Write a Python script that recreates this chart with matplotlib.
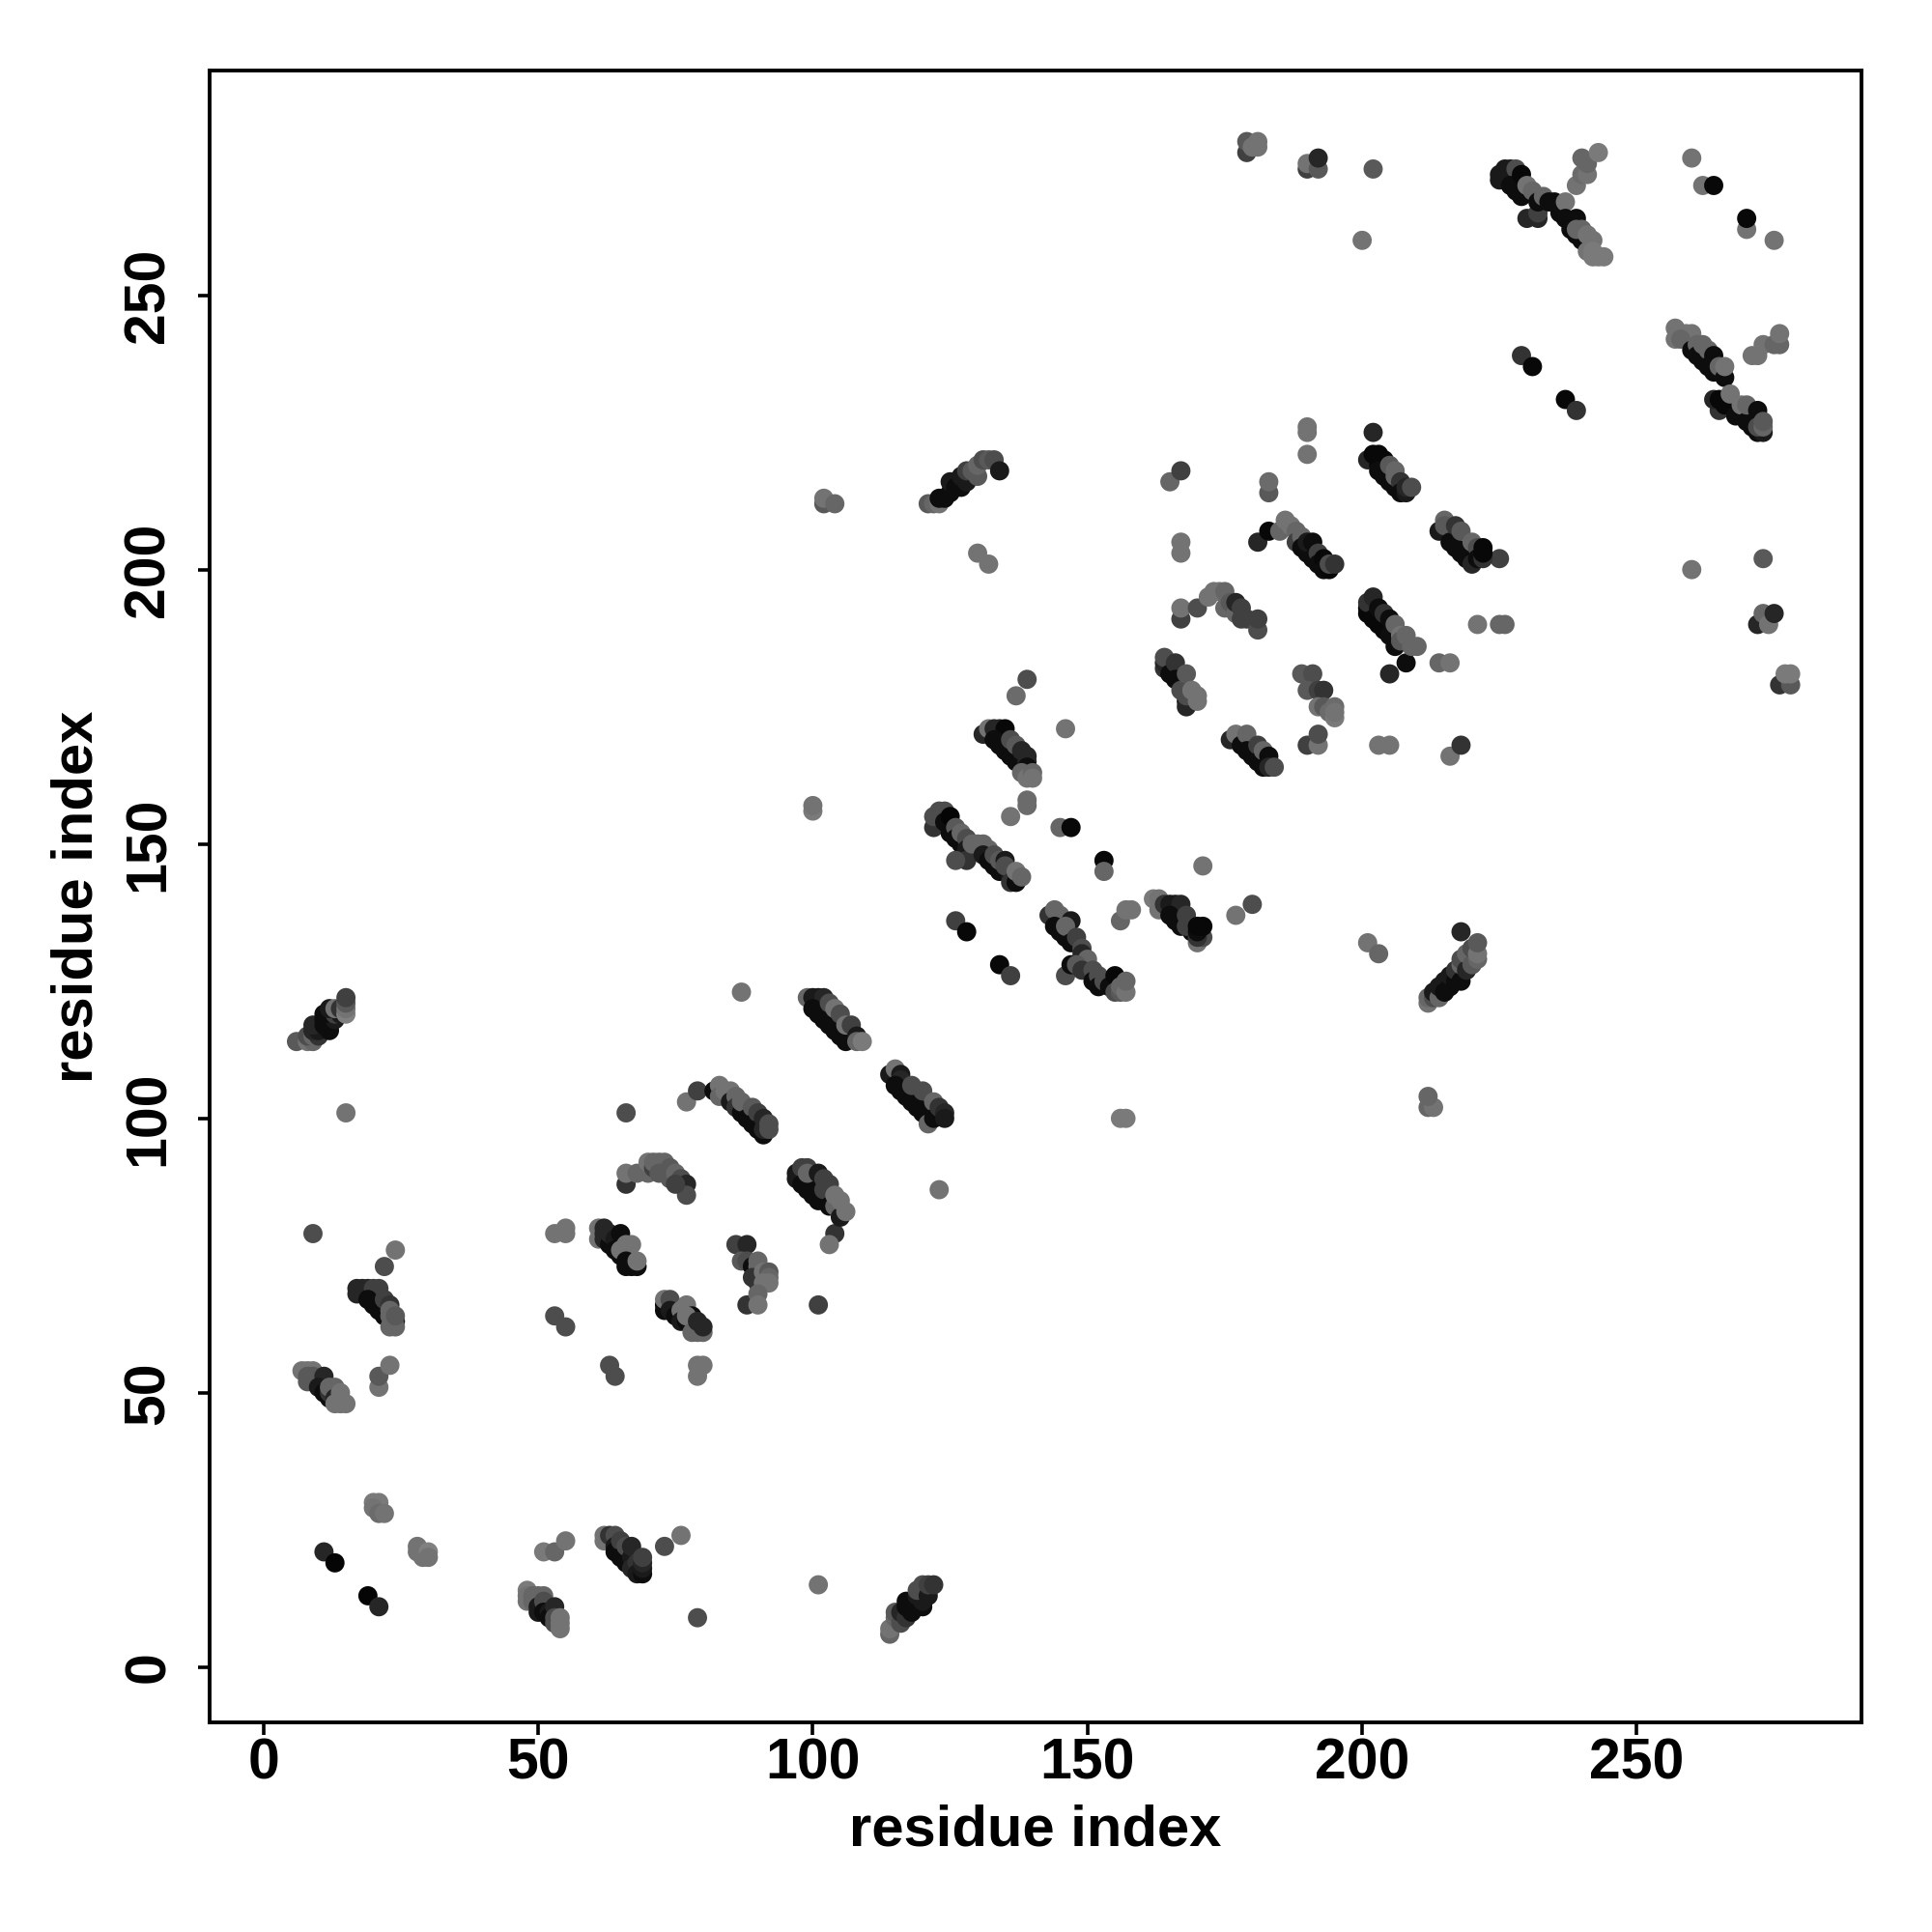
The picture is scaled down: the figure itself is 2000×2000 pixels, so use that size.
import matplotlib
matplotlib.use("Agg")
import matplotlib.pyplot as plt

# (residue x, residue y, darkness percent grey)
isolated = [(11,21,15),(13,19,2),(19,13,2),(21,11,15),(20,30,48),(21,30,48),(20,29,45),(21,28,42),(22,28,45),
 (28,22,45),(28,21,45),(29,20,45),(30,21,50),(30,20,45),(51,21,48),(53,21,40),(55,23,45),(73,22,30),(76,24,45),
 (79,9,30),(101,15,45),(9,79,30),(22,73,30),(24,76,45),(15,101,45),(21,51,45),(21,53,35),(23,55,45),
 (53,64,30),(55,62,30),(63,55,30),(64,53,30),(53,79,45),(55,79,45),(55,80,45),(79,55,45),(80,55,45),(79,53,45),
 (101,66,25),(104,79,20),(103,77,45),(77,103,45),(79,105,25),(87,123,45),(123,87,45),(66,101,30),
 (102,212,35),(102,213,45),(104,212,40),(130,203,45),(132,201,45),(100,156,48),(100,157,45),
 (126,136,25),(128,134,3),(134,128,3),(136,126,25),(136,155,45),(139,158,42),(139,157,42),(137,177,42),(139,180,30),
 (146,171,45),(145,153,40),(147,153,3),(153,147,3),(153,145,40),(156,136,40),(157,138,45),(158,138,45),(156,100,48),(157,100,48),
 (177,137,45),(180,139,30),(171,146,45),(201,132,45),(203,130,40),(212,102,40),(213,102,45),(212,104,40),
 (167,191,25),(167,193,45),(170,193,30),(167,203,45),(167,205,45),(165,216,40),(167,218,25),(183,214,35),(183,216,42),
 (190,221,45),(190,225,45),(190,226,45),(203,168,45),(205,168,45),(214,183,40),(216,183,45),(216,166,45),(218,168,20),
 (221,190,45),(225,202,25),(225,190,40),(226,190,40),(200,260,45),(202,273,35),(179,276,25),(179,278,35),(180,277,45),(181,277,45),(181,278,45),
 (190,273,25),(190,274,45),(192,273,35),(192,275,15),(239,270,45),(240,272,42),(241,272,45),(241,274,40),(240,275,40),(243,276,48),
 (229,239,20),(231,237,3),(237,231,3),(239,229,20),(260,275,45),(262,270,45),(264,270,3),(270,262,45),(270,264,3),(275,260,45),
 (260,200,45),(273,202,35),(272,190,15),(273,192,40),(274,190,45),(275,192,15),(276,179,20),(278,179,35),(277,181,48),(278,181,48),
 (271,239,45),(272,239,45),(273,241,45),(275,241,40),(276,241,40),(276,243,45)]

bands_lower = [
 (48,14,48),(48,13,45),(48,12,45),(49,13,40),(49,12,40),(50,13,40),(51,13,40),(50,11,10),(50,10,10),(51,12,30),(51,10,5),(52,10,10),(52,9,5),(53,11,15),(53,9,30),(53,8,30),(54,7,45),(54,8,45),(54,9,45),
 (62,24,45),(62,23,45),(63,24,20),(64,24,30),(64,22,10),(64,21,5),(65,23,25),(65,20,5),(66,19,5),(66,22,30),(67,20,10),(67,22,15),(67,18,15),(68,19,20),(68,17,10),(69,17,5),(69,18,10),(69,19,15),(69,20,25),
 (114,6,40),(114,7,45),(115,9,40),(115,10,35),(116,8,30),(116,10,15),(117,9,20),(117,11,5),(117,12,5),(118,10,5),(118,12,5),(119,11,5),(119,13,10),(120,11,5),(120,12,10),(120,14,15),(119,14,30),(120,15,30),(121,13,10),(121,15,25),(122,15,20),
 (6,114,35),(8,114,45),(9,114,40),(8,115,30),(9,115,40),(10,115,20),(9,116,15),(10,116,10),(9,117,15),(11,117,5),(12,116,5),(11,118,5),(12,117,5),(13,118,10),(11,119,5),(13,119,25),(14,119,10),(12,120,10),(13,120,45),(14,120,20),(15,119,50),(15,120,45),(15,121,35),(15,122,25),
 (17,68,15),(17,69,15),(18,69,15),(19,69,15),(20,69,25),(21,69,25),(19,67,5),(20,66,5),(21,65,5),(22,64,5),(22,67,25),(23,66,20),(23,65,40),(24,63,10),(23,62,40),(24,62,40),(23,64,40),(24,64,35),
 (7,54,45),(8,54,45),(9,54,45),(8,53,35),(8,52,35),(9,53,35),(10,52,35),(11,53,15),(10,51,10),(11,50,5),(12,49,5),(12,50,20),(12,51,40),(13,51,40),(13,49,15),(13,48,45),(14,48,45),(15,48,45),(14,50,45),
 (61,78,45),(61,80,45),(62,78,15),(62,79,15),(62,80,15),(63,77,5),(63,79,15),(64,78,10),(64,76,5),(65,79,5),(65,75,5),(65,76,45),(66,77,45),(67,77,45),(66,74,5),(66,73,5),(67,73,5),(68,73,5),(68,74,45),
 (73,66,5),(73,65,5),(73,67,45),(74,67,30),(74,65,10),(75,64,5),(76,65,45),(77,66,45),(76,63,10),(77,63,5),(78,62,5),(78,64,5),(77,64,45),(78,61,40),(79,61,40),(80,61,40),(80,62,15),(79,63,15),
 (66,88,20),(66,90,45),(68,90,40),(70,90,40),(70,92,45),(71,91,25),(71,92,40),(72,92,40),(73,92,40),(72,90,35),(74,91,35),(74,89,35),(75,90,40),(76,88,15),(76,89,30),(77,88,15),(77,86,30),(75,88,25),
 (86,77,25),(88,77,15),(87,74,35),(88,74,30),(89,73,5),(90,73,40),(90,74,40),(89,71,20),(90,70,20),(91,72,45),(92,72,35),(92,71,40),(92,70,45),(91,70,45),(88,66,20),(90,68,40),(90,66,45),
 (97,89,10),(97,90,10),(98,91,25),(99,91,25),(98,88,5),(99,87,5),(100,88,5),(99,90,40),(100,86,5),(101,90,10),(101,85,5),(102,86,5),(102,87,25),(102,89,25),(103,84,5),(103,88,25),(104,84,40),(104,86,45),(105,82,10),(105,85,45),(106,83,45),
 (82,105,5),(83,106,45),(83,104,40),(84,105,45),(85,105,45),(85,103,10),(86,104,40),(86,102,20),(87,101,5),(87,103,40),(88,100,5),(89,102,35),(89,99,5),(90,101,25),(90,98,5),(91,100,15),(91,97,5),(91,98,15),(92,99,30),(92,98,30),
 (99,122,40),(100,122,10),(101,122,10),(102,122,15),(100,120,5),(101,119,5),(102,118,5),(103,117,5),(104,116,5),(105,115,5),(106,114,5),(103,121,30),(104,120,45),(105,119,30),(106,117,45),(107,117,25),(108,115,10),(108,114,40),(109,114,48),
 (114,108,10),(115,109,45),(116,108,10),(116,107,15),(115,106,5),(116,105,5),(117,104,5),(118,103,5),(119,102,5),(120,101,5),(121,99,40),(118,106,30),(120,105,30),(122,103,40),(122,100,5),(123,102,20),(124,101,15),(124,100,10),
]

bands_middle = [
 (121,212,35),(122,212,40),(123,212,45),(123,213,5),(124,213,5),(125,214,5),(125,216,10),(126,215,5),(127,215,5),(127,217,10),(128,216,10),(128,218,25),(129,218,35),(130,217,35),(130,219,40),(131,220,30),(132,220,35),(133,220,30),(134,218,10),
 (122,153,20),(122,155,30),(123,156,30),(124,156,30),(124,154,5),(125,155,2),(125,152,5),(126,153,35),(126,151,5),(127,150,5),(127,152,40),(128,151,30),(128,149,10),(128,148,10),(128,147,20),(126,147,30),(129,150,40),(130,150,40),(131,150,40),(132,149,40),(131,148,10),(132,147,5),(133,146,5),(134,145,5),(133,148,30),(134,147,35),(135,147,10),(136,144,10),(135,146,30),(136,143,20),(137,143,5),(137,145,45),(138,144,40),
 (131,170,15),(132,171,45),(133,171,15),(134,171,15),(135,171,3),(133,169,5),(134,168,5),(135,167,5),(136,166,5),(137,165,5),(136,169,30),(137,168,35),(138,167,15),(139,166,15),(139,165,15),(139,164,5),(138,163,40),(139,162,45),(140,163,40),(140,162,45),
 (143,137,20),(144,138,40),(145,137,40),(144,135,5),(145,134,5),(146,133,5),(147,136,10),(146,135,40),(147,132,5),(148,133,25),(149,131,30),(149,130,15),(150,129,40),(146,126,30),(147,128,5),(148,128,35),(149,127,20),(151,127,30),(151,125,5),(152,126,30),(152,124,5),(153,125,30),(154,124,5),(155,126,3),(155,123,30),(156,123,35),(156,124,40),(157,123,45),(157,125,40),
 (162,140,48),(163,140,45),(163,138,45),(164,139,20),(165,139,10),(166,139,10),(167,139,15),(165,137,5),(166,136,5),(167,135,5),(168,137,25),(169,134,5),(168,135,25),(170,132,45),(171,133,30),(170,133,20),(170,134,5),(170,135,3),(171,135,3),
 (212,121,45),(212,122,40),(213,122,30),(213,123,10),(214,122,40),(214,124,10),(215,125,10),(215,123,5),(216,124,5),(216,126,10),(217,125,5),(217,127,20),(218,125,5),(218,128,40),(218,129,30),(219,127,15),(219,130,40),(220,128,35),(220,131,30),(221,129,40),(221,130,45),(221,132,35),(218,134,15),
 (164,182,20),(164,183,15),(164,184,30),(165,181,5),(166,183,20),(166,180,5),(167,179,5),(167,178,30),(168,176,5),(168,175,15),(168,177,30),(168,181,35),(169,178,45),(170,177,45),(170,176,45),
 (172,195,45),(173,196,45),(174,196,45),(175,196,40),(175,193,40),(176,193,40),(176,194,35),(177,192,40),(177,194,15),(178,193,25),(178,191,25),(179,191,25),(181,189,30),(181,191,25),
 (176,169,15),(177,170,45),(178,168,5),(179,170,40),(179,167,5),(180,166,5),(181,168,25),(181,165,5),(182,164,5),(182,167,40),(183,166,5),(183,164,15),(184,164,30),
]

bands_upper = [
 (181,205,15),(183,207,3),(185,207,40),(186,209,45),(187,208,45),(188,207,40),(188,205,25),(189,206,40),(189,204,5),(190,203,5),(190,205,10),(191,205,5),(191,202,5),(192,203,25),(192,201,5),(193,202,3),(193,200,5),(194,200,3),(194,201,30),(195,201,20),
 (201,220,15),(202,221,3),(203,221,3),(203,219,3),(204,220,3),(203,218,5),(204,217,5),(205,216,5),(206,215,5),(205,219,35),(206,218,40),(206,217,40),(207,216,20),(207,214,5),(208,214,10),(208,215,15),(209,215,30),(202,225,15),
 (201,193,3),(201,192,3),(201,194,20),(202,195,15),(202,191,3),(203,190,3),(204,189,3),(205,188,5),(203,193,5),(204,192,20),(205,191,5),(206,190,40),(206,186,5),(208,183,5),(205,181,15),(207,188,45),(207,187,35),(208,188,40),(209,186,40),(210,186,40),
 (189,181,35),(191,181,30),(190,178,35),(192,178,25),(193,178,20),(192,175,45),(193,175,35),(194,174,42),(195,175,42),(195,173,48),(195,174,45),(190,168,25),(192,168,45),(192,170,30),
 (214,207,10),(215,209,40),(215,208,35),(216,205,5),(217,208,20),(217,204,5),(218,203,5),(218,207,35),(219,202,5),(220,205,40),(220,201,15),(221,204,30),(221,202,5),(222,202,20),(222,203,3),(222,204,3),
 (225,272,10),(225,271,10),(226,273,10),(227,273,10),(228,273,30),(227,270,5),(228,269,5),(229,272,3),(229,268,5),(230,270,45),(231,269,40),(230,264,15),(232,264,15),(232,265,25),(232,267,5),(233,268,40),(234,267,5),(235,267,5),(236,265,5),(237,267,45),(237,264,5),(238,263,5),(239,264,5),(238,262,5),(239,261,5),(240,260,5),(239,262,40),(240,262,40),(241,261,45),(242,260,45),(241,258,45),(242,258,48),(242,257,48),(243,257,48),(244,257,48),
 (257,244,45),(257,242,45),(259,243,45),(260,243,45),(258,242,40),(260,240,5),(261,241,40),(261,239,5),(262,238,5),(262,241,40),(263,240,40),(263,237,5),(264,239,5),(264,236,5),(265,237,40),(266,235,5),(266,237,45),(265,229,20),(264,231,15),(265,231,3),(266,230,3),(267,232,45),(268,228,5),(269,230,45),(270,227,5),(271,226,5),(270,230,40),(272,229,5),(272,225,5),(273,225,10),(272,226,30),(273,226,40),(273,227,35),
]

ticks = [0, 50, 100, 150, 200, 250]
axis_label = "residue index"

plt.rcParams["font.family"] = ["Liberation Sans", "DejaVu Sans"]
plt.rcParams["font.weight"] = "bold"

fig = plt.figure(figsize=(20, 20), dpi=100)
ax = fig.add_axes([216.8/2000, 1-1783/2000, (1927-216.8)/2000, (1783-72.7)/2000])

points = isolated + bands_lower + bands_middle + bands_upper
xs = [p[0] for p in points]
ys = [p[1] for p in points]
cs = [str(p[2]/100) for p in points]
ax.scatter(xs, ys, s=205, c=cs, linewidths=0, clip_on=True)

ax.set_xlim(-9.85, 290.9)
ax.set_ylim(-10.07, 291)
ax.set_xticks(ticks)
ax.set_yticks(ticks)
ax.tick_params(axis="both", length=9, width=2.6, labelsize=42.5)
ax.tick_params(axis="x", pad=2.5)
ax.tick_params(axis="y", pad=16.3)
for t in ax.get_yticklabels():
    t.set_rotation(90)
    t.set_va("center")
for s in ax.spines.values():
    s.set_linewidth(2.8)
ax.set_xlabel(axis_label, fontsize=43, fontweight="bold", labelpad=9.5)
ax.set_ylabel(axis_label, fontsize=43, fontweight="bold", labelpad=13.5)
fig.savefig("out.png", dpi=100)
